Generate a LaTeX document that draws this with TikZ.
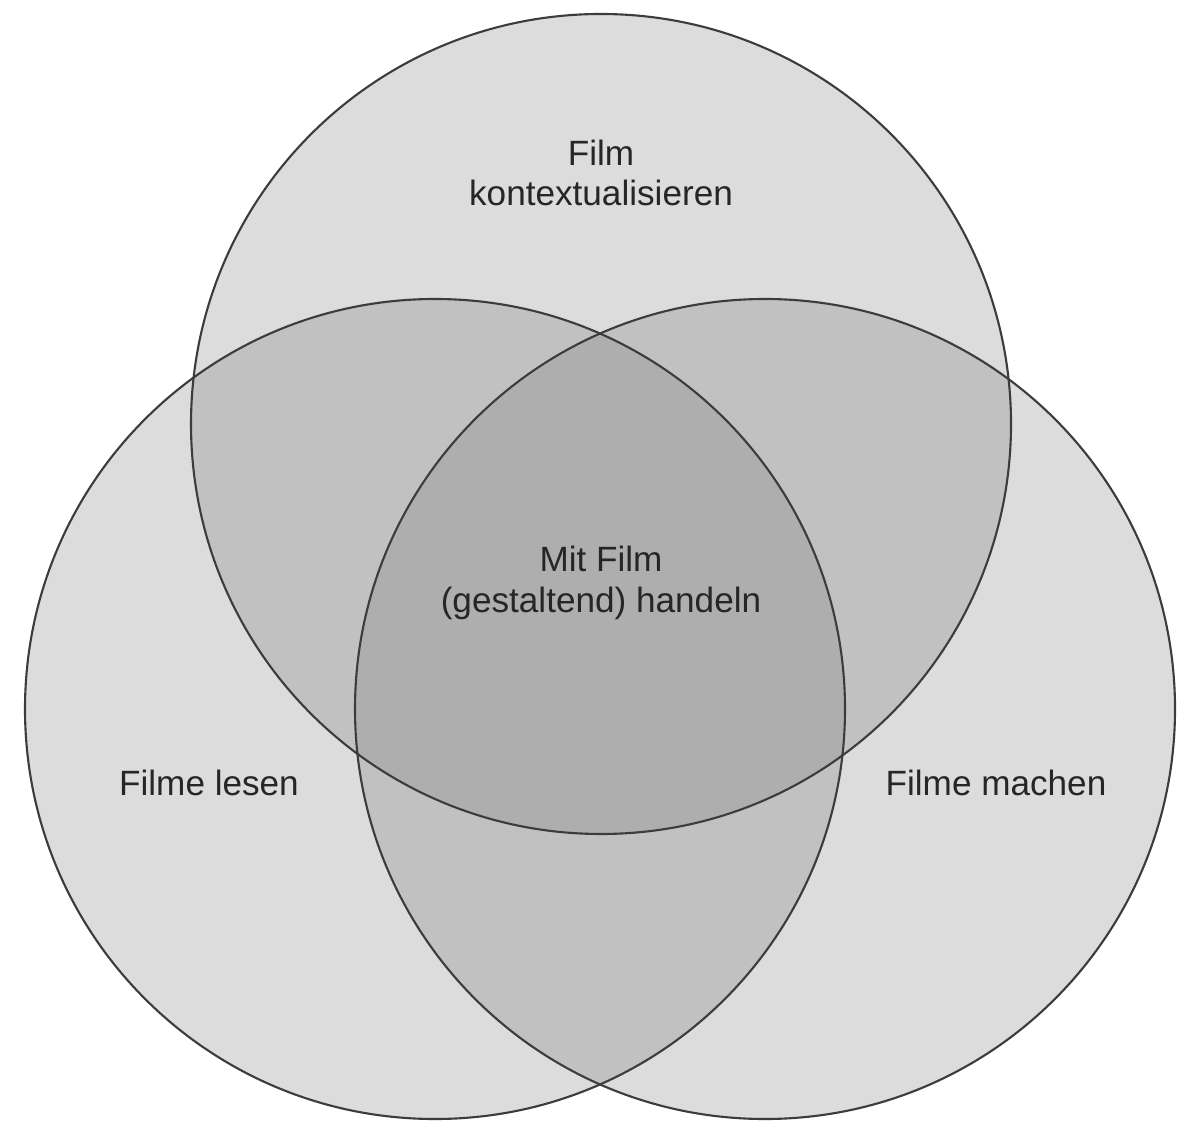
\documentclass[tikz,border=0pt]{standalone}
\usepackage{fontspec}
\setmainfont{Liberation Sans}
\definecolor{fillone}{RGB}{220,220,220}
\definecolor{filltwo}{RGB}{193,193,193}
\definecolor{fillthree}{RGB}{174,174,174}
\definecolor{rim}{RGB}{60,60,60}
\def\Kontext{(6.01,6.99) circle (4.10)}
\def\Lesen{(4.35,4.14) circle (4.10)}
\def\Machen{(7.65,4.14) circle (4.10)}
\begin{document}
\begin{tikzpicture}[
    label/.style={align=center, font=\fontsize{10}{11.5}\selectfont, text=black!85},
    rimline/.style={draw=rim, line width=0.6pt}]
    \useasboundingbox[fill=white] (0,0) rectangle (11.79,11.23);
    \fill[fillone] \Kontext;
    \fill[fillone] \Lesen;
    \fill[fillone] \Machen;
    \begin{scope}
      \clip \Kontext;
      \fill[filltwo] \Lesen;
      \fill[filltwo] \Machen;
    \end{scope}
    \begin{scope}
      \clip \Lesen;
      \fill[filltwo] \Machen;
      \clip \Kontext;
      \fill[fillthree] \Machen;
    \end{scope}
    \draw[rimline] \Kontext;
    \draw[rimline] \Lesen;
    \draw[rimline] \Machen;

    \node[label] (kontext) at (6.01,9.50) {Film\\kontextualisieren};
    \node[label] (handeln) at (6.01,5.40) {Mit Film\\(gestaltend) handeln};
    \node[label] (lesen) at (2.09,3.40) {Filme lesen};
    \node[label] (machen) at (9.96,3.40) {Filme machen};
  \end{tikzpicture}
\end{document}
